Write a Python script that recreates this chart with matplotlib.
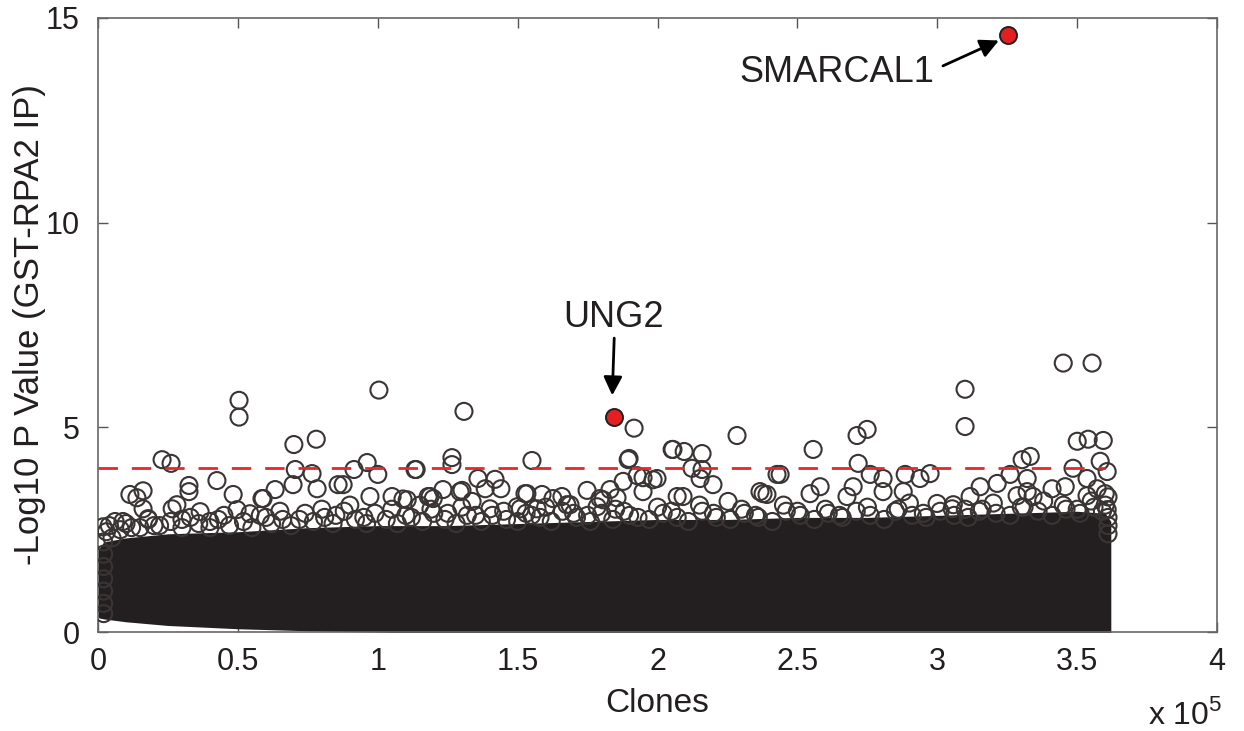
import matplotlib
matplotlib.use("Agg")
import matplotlib.pyplot as plt

plt.rcParams['font.family'] = ['Liberation Sans', 'DejaVu Sans']

# clone index in units of 1e5, -log10 p values
band_x = [0.0, 0.02, 0.1, 0.25, 0.5, 0.75, 1.0, 1.25, 1.5, 1.75, 2.0, 2.25,
          2.5, 2.75, 3.0, 3.25, 3.5, 3.6, 3.62]
band_top = [2.0, 2.2, 2.3, 2.4, 2.45, 2.55, 2.6, 2.6, 2.65, 2.7, 2.75, 2.75,
            2.8, 2.8, 2.85, 2.9, 2.95, 2.9, 2.7]
band_bottom = [0.35, 0.32, 0.25, 0.16, 0.08, 0.03, 0.0, -0.05, -0.05, -0.05, -0.05, -0.05,
               -0.05, -0.05, -0.05, -0.05, -0.05, -0.05, -0.05]

# circles crowding the upper edge of the dense band
fringe_x = [0.02, 0.02, 0.02, 0.02, 0.02, 0.02, 0.02, 0.03, 0.05, 0.12, 0.2, 0.3,
            0.4, 0.45, 0.6, 0.65, 0.72, 0.8, 0.85, 0.9, 0.95, 1.05, 1.1, 1.15,
            1.25, 1.3, 1.35, 1.45, 1.55, 1.6, 1.7, 1.75, 1.85, 1.9, 2.0, 2.05,
            2.15, 2.2, 2.3, 2.35, 2.45, 2.5, 2.6, 2.65, 2.75, 2.85, 2.9, 2.95,
            3.1, 3.15, 3.2, 3.3, 3.38, 3.45, 3.5, 3.55, 3.6, 3.61, 3.61,
            0.04, 0.08, 0.1, 0.15, 0.18, 0.22, 0.26, 0.3, 0.33, 0.36, 0.4, 0.43,
            0.47, 0.52, 0.55, 0.58, 0.62, 0.66, 0.69, 0.74, 0.77, 0.81, 0.84, 0.88,
            0.92, 0.96, 0.99, 1.03, 1.07, 1.12, 1.16, 1.2, 1.24, 1.28, 1.32, 1.37,
            1.41, 1.46, 1.5, 1.53, 1.58, 1.62, 1.66, 1.71, 1.76, 1.8, 1.84, 1.88,
            1.93, 1.97, 2.02, 2.07, 2.11, 2.16, 2.21, 2.26, 2.31, 2.36, 2.41, 2.46,
            2.51, 2.56, 2.61, 2.66, 2.71, 2.76, 2.81, 2.86, 2.91, 2.96, 3.01, 3.06,
            3.11, 3.16, 3.21, 3.26, 3.31, 3.36, 3.41, 3.46, 3.51, 3.56, 3.59, 3.61,
            3.61]
fringe_y = [2.2, 1.9, 1.6, 1.3, 1.0, 0.7, 0.45, 2.45, 2.3, 2.55, 2.6, 2.75,
            2.7, 2.85, 2.8, 2.95, 2.75, 3.0, 2.85, 3.1, 2.8, 3.0, 2.85, 3.1,
            2.9, 3.05, 2.85, 2.95, 2.85, 3.05, 2.9, 2.85, 3.0, 2.85, 3.05, 2.95,
            3.1, 2.9, 3.0, 2.85, 3.1, 2.95, 3.0, 2.85, 3.05, 2.95, 3.15, 2.9,
            3.0, 2.95, 3.15, 3.05, 3.2, 3.1, 3.0, 3.2, 3.1, 2.8, 2.6,
            2.6, 2.5, 2.65, 2.55, 2.75, 2.6, 2.7, 2.55, 2.8, 2.65, 2.55, 2.75,
            2.6, 2.7, 2.55, 2.85, 2.65, 2.75, 2.6, 2.9, 2.7, 2.8, 2.65, 2.95,
            2.75, 2.65, 2.9, 2.75, 2.65, 2.8, 2.7, 2.9, 2.75, 2.65, 2.85, 2.7,
            2.85, 2.75, 2.7, 2.9, 2.8, 2.7, 2.95, 2.8, 2.7, 2.9, 2.75, 2.95,
            2.8, 2.75, 2.9, 2.8, 2.7, 2.95, 2.8, 2.75, 2.9, 2.8, 2.7, 2.95,
            2.85, 2.75, 2.9, 2.8, 2.95, 2.85, 2.75, 3.0, 2.85, 2.8, 2.95, 2.85,
            2.8, 3.0, 2.9, 2.85, 3.05, 2.95, 2.85, 3.0, 2.9, 3.05, 2.95, 3.3,
            2.4]

clone_x = [1.916, 0.504, 0.504, 1.004, 1.308,
           0.70, 0.78, 0.705, 0.765, 0.915, 0.962, 1.0, 1.137, 0.858, 0.876, 0.697,
           0.633, 0.59, 0.783, 0.972, 1.18, 1.09, 1.19,
           0.229, 0.261, 0.425, 0.483, 0.325, 0.325, 0.114, 0.161, 0.139, 0.586,
           0.018, 0.061, 0.161, 0.179, 0.265, 0.282, 0.365, 0.497, 0.543, 0.089,
           1.265, 1.265, 1.551, 1.358, 1.419, 1.44, 1.384, 1.233, 1.301, 1.526,
           1.587, 1.748, 1.658, 1.805, 1.198, 1.337, 1.498, 1.569, 1.687, 1.784,
           2.284, 2.055, 2.095, 2.159, 1.898, 2.123, 2.159, 2.152, 1.927, 1.948,
           1.998, 2.427, 1.877, 1.948, 2.198, 2.366, 2.391, 2.070, 1.830, 1.855,
           2.556, 2.713, 2.749, 2.717, 2.438, 2.885, 2.974, 2.938, 2.806, 2.760,
           2.581, 2.377, 2.545, 2.699, 2.091, 2.252, 2.677, 2.806, 2.878, 3.053,
           2.999,
           3.099, 3.099, 3.45, 3.553, 3.50, 3.539, 3.593, 3.303, 3.332, 3.582,
           3.607, 3.485, 3.41, 3.457, 3.26, 3.214, 3.153, 3.321, 3.321, 3.535,
           3.571, 3.600, 3.117, 3.057, 3.285, 3.342, 3.535, 3.607,
           1.533, 1.051, 1.105, 1.187, 1.294, 1.401, 1.509, 1.626, 1.676, 1.794,
           1.984, 2.052, 1.895, 1.133]
clone_y = [4.98, 5.66, 5.25, 5.91, 5.39,
           4.58, 4.71, 3.97, 3.87, 3.97, 4.14, 3.85, 3.97, 3.6, 3.6, 3.6,
           3.48, 3.26, 3.5, 3.31, 3.31, 3.25, 3.0,
           4.21, 4.12, 3.70, 3.36, 3.58, 3.43, 3.36, 3.45, 3.28, 3.26,
           2.57, 2.70, 3.01, 2.77, 3.01, 3.11, 2.94, 2.99, 2.89, 2.70,
           4.26, 4.09, 4.19, 3.75, 3.73, 3.5, 3.5, 3.48, 3.46, 3.38,
           3.36, 3.46, 3.31, 3.23, 3.26, 3.19, 3.06, 3.01, 3.11, 3.06,
           4.80, 4.46, 4.41, 4.36, 4.24, 4.0, 3.97, 3.75, 3.82, 3.77,
           3.75, 3.85, 3.68, 3.43, 3.6, 3.43, 3.36, 3.31, 3.48, 3.28,
           4.46, 4.80, 4.95, 4.12, 3.85, 3.85, 3.87, 3.75, 3.75, 3.85,
           3.55, 3.38, 3.38, 3.55, 3.31, 3.19, 3.31, 3.43, 3.43, 3.01,
           3.14,
           5.93, 5.02, 6.57, 6.57, 4.66, 4.71, 4.68, 4.21, 4.29, 4.17,
           3.92, 4.0, 3.5, 3.55, 3.85, 3.63, 3.55, 3.75, 3.43, 3.75,
           3.50, 3.38, 3.31, 3.11, 3.33, 3.31, 3.33, 2.99,
           3.38, 3.31, 3.23, 3.31, 3.43, 3.01, 3.01, 3.26, 3.11, 3.26,
           3.72, 4.46, 4.21, 3.97]

hit_names = ['SMARCAL1', 'UNG2']
hit_x = [3.253, 1.845]
hit_y = [14.58, 5.25]
threshold = 4.0

fig = plt.figure(figsize=(12.44, 7.31), dpi=100)
ax = fig.add_axes([0.0788, 0.1354, 0.8996, 0.8400])

dark = '#231f20'
ring = '#3a3434'
ax.fill_between(band_x, band_bottom, band_top, color=dark, lw=0, zorder=2)
ax.scatter(fringe_x, fringe_y, s=150, facecolors='none', edgecolors=ring,
           linewidths=1.5, zorder=3)
ax.scatter(clone_x, clone_y, s=150, facecolors='none', edgecolors=ring,
           linewidths=1.5, zorder=3)
ax.plot([0, 3.6], [threshold, threshold], color='#e8262b', lw=2.0,
        dashes=(7, 5), zorder=4)
ax.scatter(hit_x, hit_y, s=150, facecolors='#e3201f', edgecolors=dark,
           linewidths=1.4, zorder=5)

arrow = dict(arrowstyle='-|>', color='black', lw=2, mutation_scale=28,
             shrinkA=0, shrinkB=0)
ax.annotate('', xy=(3.22, 14.45), xytext=(3.02, 13.83), arrowprops=arrow)
ax.text(2.64, 13.68, hit_names[0], ha='center', va='center', fontsize=26,
        color=dark)
ax.annotate('', xy=(1.838, 5.78), xytext=(1.845, 7.18), arrowprops=arrow)
ax.text(1.841, 7.68, hit_names[1], ha='center', va='center', fontsize=26,
        color=dark)

ax.set_xlim(0, 4)
ax.set_ylim(0, 15)
ax.set_xticks([0, 0.5, 1, 1.5, 2, 2.5, 3, 3.5, 4])
ax.set_xticklabels(['0', '0.5', '1', '1.5', '2', '2.5', '3', '3.5', '4'])
ax.set_yticks([0, 5, 10, 15])
ax.tick_params(direction='in', top=True, right=True, length=7, width=1,
               color='#555555', labelsize=22, labelcolor=dark)
ax.tick_params(axis='x', pad=11)
ax.tick_params(axis='y', pad=13)
for sp in ax.spines.values():
    sp.set_color('#666666')
    sp.set_linewidth(1.2)

ax.set_xlabel('Clones', fontsize=24, color=dark, labelpad=8)
ax.set_ylabel('-Log10 P Value (GST-RPA2 IP)', fontsize=25, color=dark,
              labelpad=0)
fig.text(0.953, 0.022, r'x 10$^{\mathregular{5}}$', ha='center', va='center',
         fontsize=23, color=dark)

fig.savefig('out.png', dpi=100)
